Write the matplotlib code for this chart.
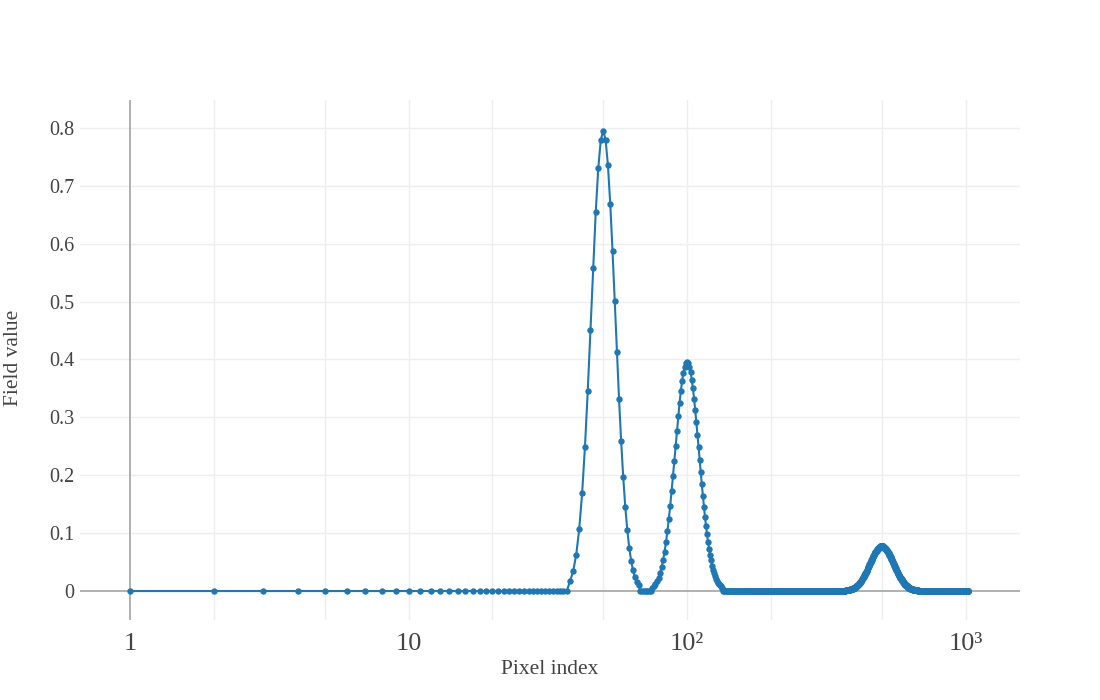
import numpy as np
import matplotlib
matplotlib.use("Agg")
import matplotlib.pyplot as plt

# ---------------- data ----------------
pixel_index = np.arange(1, 1025)          # x values 1..1024

# non-zero stretches of the field; everything else is 0
peak1_start = 38
peak1_values = [0.0171, 0.0341, 0.0627, 0.1067, 0.1687, 0.2492, 0.3455, 0.4513,
                0.5577, 0.6540, 0.7302, 0.7786, 0.7950, 0.7793, 0.7350, 0.6686,
                0.5877, 0.5002, 0.4130, 0.3312, 0.2585, 0.1966, 0.1459, 0.1058,
                0.0751, 0.0522, 0.0355, 0.0238, 0.0156, 0.0101]

peak2_start = 75
peak2_values = [0.006, 0.008, 0.012, 0.017, 0.023, 0.031, 0.041, 0.053, 0.067, 0.084,
                0.103, 0.124, 0.147, 0.172, 0.198, 0.224, 0.251, 0.277, 0.302, 0.325,
                0.345, 0.363, 0.377, 0.387, 0.393, 0.395, 0.393, 0.387, 0.378, 0.365,
                0.350, 0.332, 0.313, 0.292, 0.270, 0.249, 0.227, 0.205, 0.184, 0.165,
                0.146, 0.128, 0.112, 0.098, 0.084, 0.073, 0.062, 0.053, 0.044, 0.037,
                0.031, 0.026, 0.021, 0.018, 0.014, 0.012, 0.010, 0.008, 0.006, 0.005]

peak3_start = 371
peak3_values = [
    0.001, 0.001, 0.001, 0.001, 0.001, 0.001, 0.001, 0.001, 0.002, 0.002,
    0.002, 0.002, 0.002, 0.002, 0.002, 0.003, 0.003, 0.003, 0.003, 0.003,
    0.004, 0.004, 0.004, 0.004, 0.005, 0.005, 0.005, 0.005, 0.006, 0.006,
    0.006, 0.007, 0.007, 0.008, 0.008, 0.008, 0.009, 0.009, 0.010, 0.010,
    0.011, 0.011, 0.012, 0.013, 0.013, 0.014, 0.014, 0.015, 0.016, 0.016,
    0.017, 0.018, 0.018, 0.019, 0.020, 0.021, 0.022, 0.022, 0.023, 0.024,
    0.025, 0.026, 0.027, 0.028, 0.029, 0.030, 0.031, 0.031, 0.032, 0.033,
    0.034, 0.035, 0.036, 0.037, 0.039, 0.040, 0.041, 0.042, 0.043, 0.044,
    0.045, 0.046, 0.047, 0.048, 0.049, 0.050, 0.051, 0.052, 0.053, 0.054,
    0.055, 0.056, 0.057, 0.058, 0.059, 0.060, 0.061, 0.062, 0.062, 0.063,
    0.064, 0.065, 0.066, 0.067, 0.067, 0.068, 0.069, 0.069, 0.070, 0.071,
    0.071, 0.072, 0.072, 0.073, 0.073, 0.074, 0.074, 0.075, 0.075, 0.075,
    0.076, 0.076, 0.076, 0.076, 0.077, 0.077, 0.077, 0.077, 0.077, 0.077,
    0.077, 0.077, 0.077, 0.077, 0.077, 0.076, 0.076, 0.076, 0.076, 0.075,
    0.075, 0.075, 0.074, 0.074, 0.074, 0.073, 0.073, 0.072, 0.072, 0.071,
    0.071, 0.070, 0.069, 0.069, 0.068, 0.068, 0.067, 0.066, 0.065, 0.065,
    0.064, 0.063, 0.063, 0.062, 0.061, 0.060, 0.059, 0.059, 0.058, 0.057,
    0.056, 0.055, 0.054, 0.054, 0.053, 0.052, 0.051, 0.050, 0.049, 0.048,
    0.048, 0.047, 0.046, 0.045, 0.044, 0.043, 0.042, 0.042, 0.041, 0.040,
    0.039, 0.038, 0.038, 0.037, 0.036, 0.035, 0.034, 0.034, 0.033, 0.032,
    0.031, 0.031, 0.030, 0.029, 0.028, 0.028, 0.027, 0.026, 0.026, 0.025,
    0.024, 0.024, 0.023, 0.023, 0.022, 0.021, 0.021, 0.020, 0.020, 0.019,
    0.019, 0.018, 0.017, 0.017, 0.016, 0.016, 0.015, 0.015, 0.015, 0.014,
    0.014, 0.013, 0.013, 0.012, 0.012, 0.012, 0.011, 0.011, 0.011, 0.010,
    0.010, 0.010, 0.009, 0.009, 0.009, 0.008, 0.008, 0.008, 0.008, 0.007,
    0.007, 0.007, 0.007, 0.006, 0.006, 0.006, 0.006, 0.005, 0.005, 0.005,
    0.005, 0.005, 0.005, 0.004, 0.004, 0.004, 0.004, 0.004, 0.004, 0.003,
    0.003, 0.003, 0.003, 0.003, 0.003, 0.003, 0.003, 0.002, 0.002, 0.002,
    0.002, 0.002, 0.002, 0.002, 0.002, 0.002, 0.002, 0.002, 0.002, 0.002,
    0.001, 0.001, 0.001, 0.001, 0.001, 0.001, 0.001, 0.001, 0.001, 0.001,
    0.001, 0.001, 0.001, 0.001]

x_tick_values = [1, 10, 100, 1000]
x_tick_labels = ["1", "10", "10²", "10³"]
x_grid_values = [2, 5, 10, 20, 50, 100, 200, 500, 1000]
y_tick_values = [0, 0.1, 0.2, 0.3, 0.4, 0.5, 0.6, 0.7, 0.8]
y_tick_labels = ["0", "0.1", "0.2", "0.3", "0.4", "0.5", "0.6", "0.7", "0.8"]

field_value = np.zeros(len(pixel_index))
for start, vals in [(peak1_start, peak1_values), (peak2_start, peak2_values),
                    (peak3_start, peak3_values)]:
    field_value[start - 1:start - 1 + len(vals)] = vals

# ---------------- figure ----------------
plt.rcParams['font.family'] = ['Liberation Serif', 'DejaVu Serif']
W, H = 1100, 700
fig = plt.figure(figsize=(W / 100, H / 100), dpi=100)
fig.patch.set_facecolor('white')
ax = fig.add_axes([80 / W, 1 - 620 / H, 940 / W, 520 / H])
ax.set_xscale('log')
ax.set_xlim(0.661, 1569)
ax.set_ylim(-0.050, 0.848)

grid_c = '#eeeeee'
zero_c = '#aaaaaa'
for gx in x_grid_values:
    ax.axvline(gx, color=grid_c, lw=1.0, zorder=0)
for gy in y_tick_values[1:]:
    ax.axhline(gy, color=grid_c, lw=1.0, zorder=0)
ax.axhline(0, color=zero_c, lw=1.3, zorder=1)
ax.axvline(1, color=zero_c, lw=1.3, zorder=1)

ax.plot(pixel_index, field_value, '-', color='#1f77b4', lw=1.5, zorder=3)
ax.plot(pixel_index, field_value, 'o', color='#1f77b4', ms=4.6, mew=0, zorder=4)

for s in ax.spines.values():
    s.set_visible(False)
ax.set_xticks(x_tick_values)
ax.set_xticklabels(x_tick_labels)
ax.xaxis.set_minor_locator(matplotlib.ticker.NullLocator())
ax.set_yticks(y_tick_values)
ax.set_yticklabels(y_tick_labels)
ax.tick_params(axis='x', length=0, pad=9, labelsize=19, labelcolor='#444444')
ax.tick_params(axis='y', length=0, pad=4, labelsize=14.5, labelcolor='#444444')

fig.text(550 / W, 1 - 670 / H, "Pixel index", ha='center', va='center',
         fontsize=15.5, color='#444444')
fig.text(14 / W, 1 - 358 / H, "Field value", ha='center', va='center',
         rotation=90, fontsize=15.5, color='#444444')

fig.savefig("out.png", dpi=100, facecolor='white')
